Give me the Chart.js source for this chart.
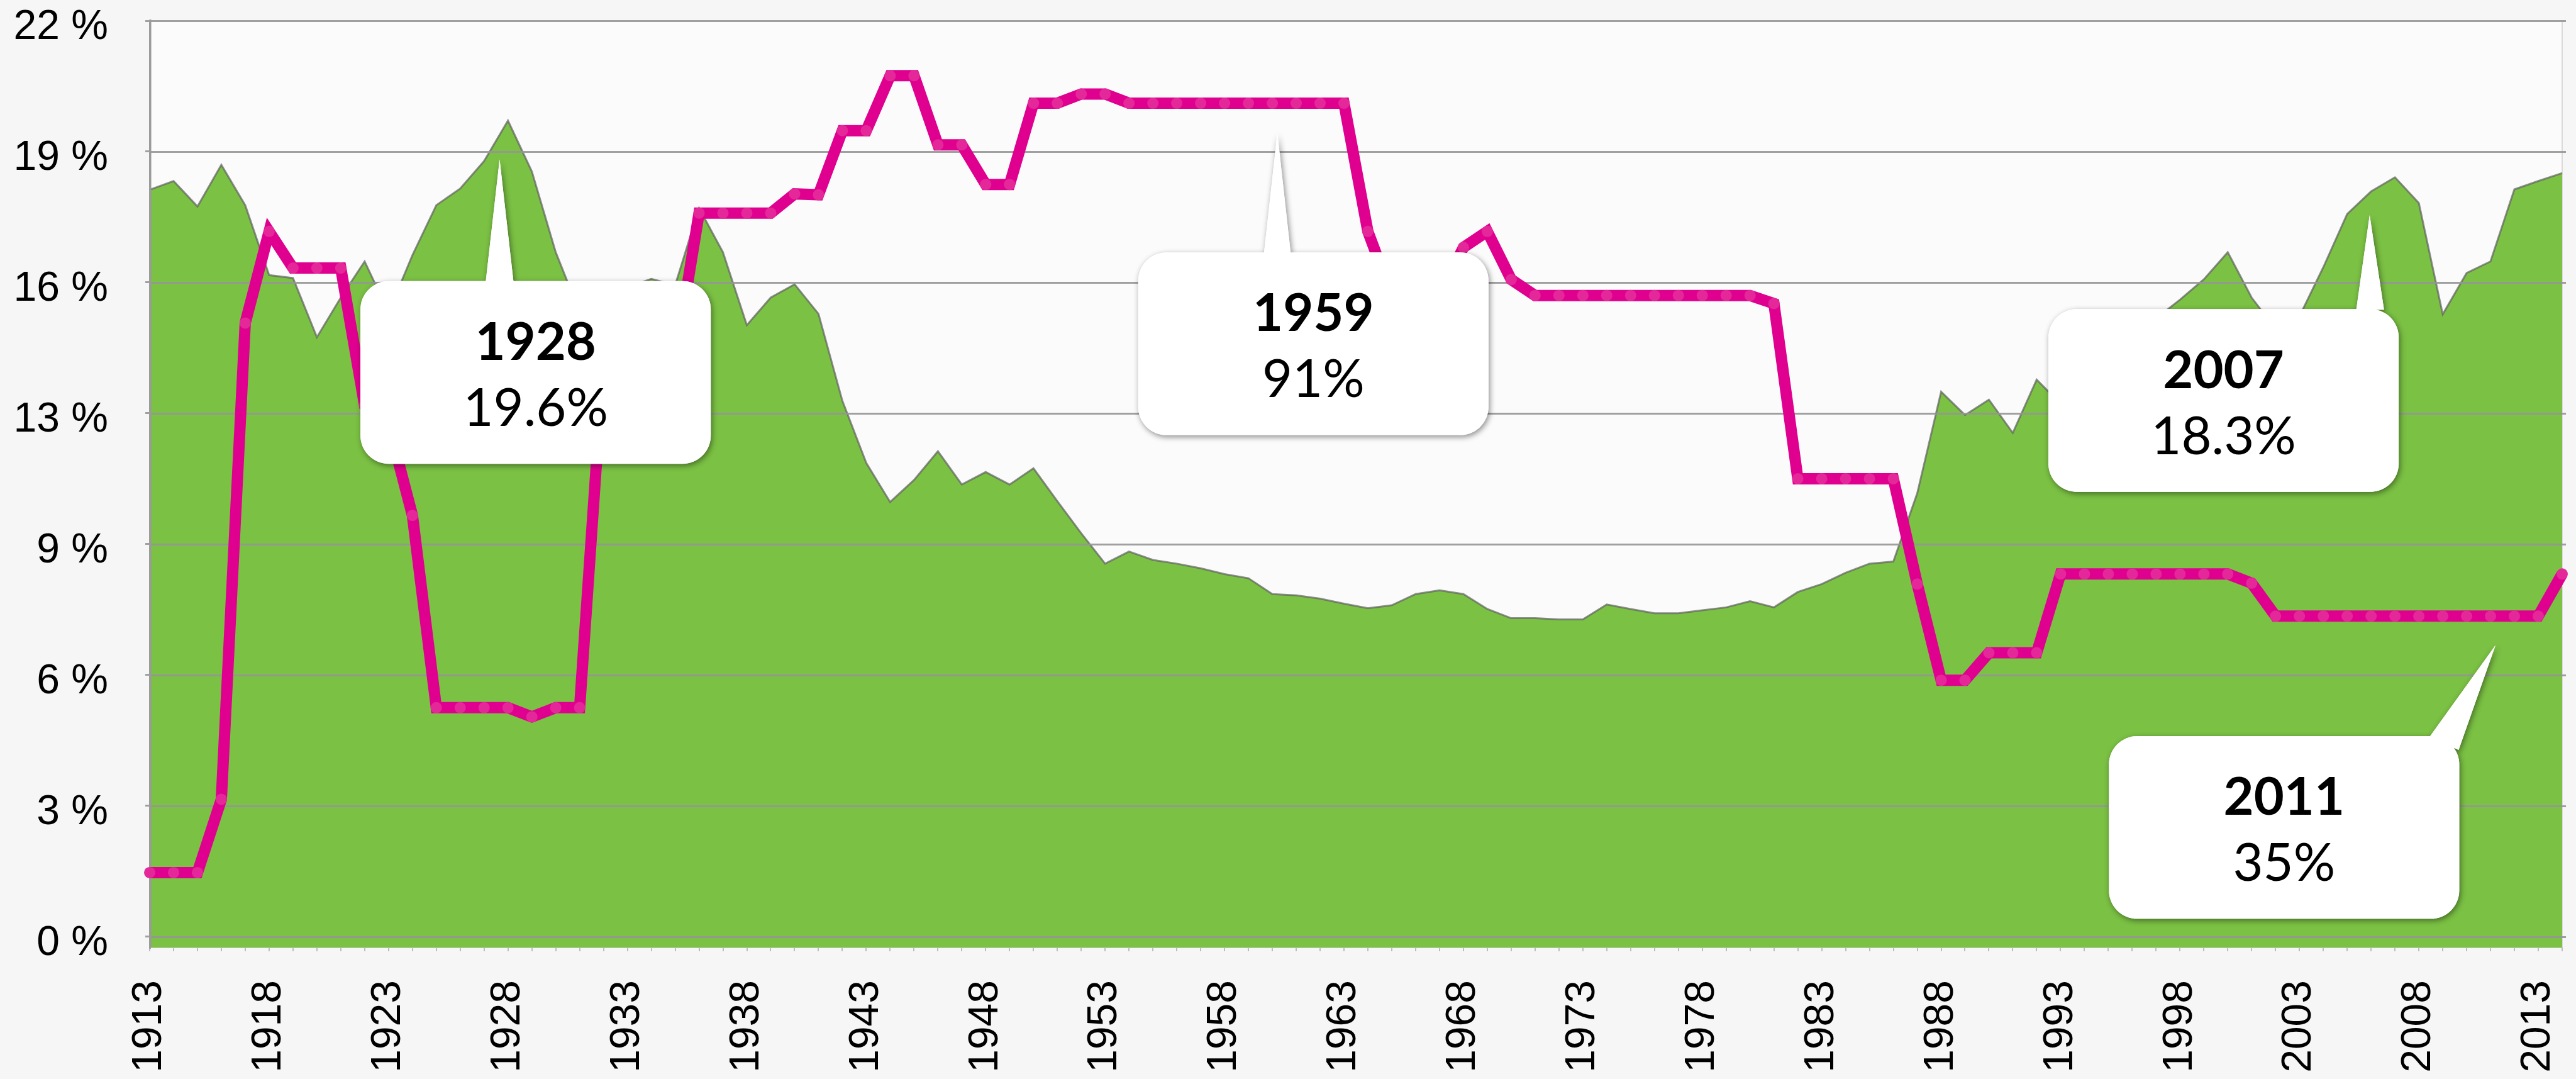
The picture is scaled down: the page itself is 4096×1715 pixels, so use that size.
<!DOCTYPE html>
<html>
<head>
<meta charset="utf-8">
<script src="https://cdn.jsdelivr.net/npm/chart.js@4.4.1/dist/chart.umd.min.js"></script>
<style>
  html, body { margin: 0; padding: 0; background: #f6f6f6; }
  canvas { display: block; }
</style>
</head>
<body>
<canvas id="chart" width="4096" height="1715"></canvas>
<script>
// years on the x axis
const years = [
    1913, 1914, 1915, 1916, 1917, 1918, 1919, 1920, 1921, 1922,
    1923, 1924, 1925, 1926, 1927, 1928, 1929, 1930, 1931, 1932,
    1933, 1934, 1935, 1936, 1937, 1938, 1939, 1940, 1941, 1942,
    1943, 1944, 1945, 1946, 1947, 1948, 1949, 1950, 1951, 1952,
    1953, 1954, 1955, 1956, 1957, 1958, 1959, 1960, 1961, 1962,
    1963, 1964, 1965, 1966, 1967, 1968, 1969, 1970, 1971, 1972,
    1973, 1974, 1975, 1976, 1977, 1978, 1979, 1980, 1981, 1982,
    1983, 1984, 1985, 1986, 1987, 1988, 1989, 1990, 1991, 1992,
    1993, 1994, 1995, 1996, 1997, 1998, 1999, 2000, 2001, 2002,
    2003, 2004, 2005, 2006, 2007, 2008, 2009, 2010, 2011, 2012,
    2013, 2014
];

// green area, left axis (%)
const topShare = [
    17.94, 18.15, 17.54, 18.54, 17.57, 15.89, 15.82, 14.40, 15.35, 16.22,
    15.00, 16.37, 17.57, 17.97, 18.63, 19.60, 18.38, 16.44, 15.00, 15.40,
    15.60, 15.80, 15.65, 17.50, 16.44, 14.69, 15.35, 15.67, 14.96, 12.87,
    11.38, 10.44, 10.97, 11.66, 10.86, 11.16, 10.86, 11.25, 10.46, 9.69,
    8.96, 9.25, 9.05, 8.96, 8.85, 8.71, 8.61, 8.23, 8.20, 8.12,
    8.00, 7.89, 7.96, 8.23, 8.32, 8.23, 7.87, 7.65, 7.65, 7.62,
    7.62, 7.98, 7.87, 7.77, 7.77, 7.84, 7.91, 8.06, 7.91, 8.28,
    8.47, 8.74, 8.96, 9.01, 10.65, 13.09, 12.53, 12.90, 12.10, 13.38,
    12.80, 12.90, 13.40, 14.10, 14.85, 15.30, 15.79, 16.44, 15.35, 14.60,
    14.90, 16.08, 17.36, 17.90, 18.24, 17.62, 14.95, 15.94, 16.22, 17.95,
    18.15, 18.34
];

// magenta line, hidden right axis (0-100 %)
const topRate = [
    7, 7, 7, 15, 67, 77, 73, 73, 73, 58,
    56, 46, 25, 25, 25, 25, 24, 25, 25, 63,
    63, 63, 63, 79, 79, 79, 79, 81.1, 81, 88,
    88, 94, 94, 86.45, 86.45, 82.13, 82.13, 91, 91, 92,
    92, 91, 91, 91, 91, 91, 91, 91, 91, 91,
    91, 77, 70, 70, 70, 75.25, 77, 71.75, 70, 70,
    70, 70, 70, 70, 70, 70, 70, 70, 69.13, 50,
    50, 50, 50, 50, 38.5, 28, 28, 31, 31, 31,
    39.6, 39.6, 39.6, 39.6, 39.6, 39.6, 39.6, 39.6, 38.6, 35,
    35, 35, 35, 35, 35, 35, 35, 35, 35, 35,
    35, 39.6
];

const shareTickLabels = ['0 %', '3 %', '6 %', '9 %', '13 %', '16 %', '19 %', '22 %'];
const rateTickLabels = ['0 %', '14 %', '29 %', '43 %', '57 %', '71 %', '86 %', '100 %'];
const shareMax = 22;
const rateMax = 100;

// callouts: tip = [year index, left-axis value]
const callouts = [
    { title: '1928', value: '19.6%', tip: [14.65, 18.67], box: [70, 414], base: [-97, -43] },
    { title: '1959', value: '91%', tip: [47.21, 19.31], box: [70, 410], base: [-96, -44] },
    { title: '2007', value: '18.3%', tip: [92.94, 17.33], box: [-284, 360], base: [258, 312] },
    { title: '2011', value: '35%', tip: [98.21, 7.0], box: [-411, 354], base: [283, 27], corner: true }
];

const S = 0.818;
const shareMin = -0.26;
const rateMin = shareMin * rateMax / shareMax;
const steps = shareTickLabels.length - 1;

const plotBackground = {
    id: 'plotBackground',
    beforeDraw(chart) {
        const a = chart.chartArea;
        const ctx = chart.ctx;
        ctx.save();
        ctx.fillStyle = '#fbfbfb';
        ctx.fillRect(a.left, a.top, a.right - a.left, a.bottom - a.top);
        ctx.strokeStyle = '#dadada';
        ctx.lineWidth = 2;
        ctx.beginPath();
        ctx.moveTo(a.right, a.top);
        ctx.lineTo(a.right, a.bottom);
        ctx.stroke();
        ctx.restore();
    }
};

// gridlines show over the green area but under the magenta line
const gridOverArea = {
    id: 'gridOverArea',
    afterDatasetDraw(chart, args) {
        if (args.index !== 0) return;
        const a = chart.chartArea;
        const ys = chart.scales.y;
        const ctx = chart.ctx;
        ctx.save();
        ctx.strokeStyle = 'rgba(150, 150, 150, 0.9)';
        ctx.lineWidth = 3;
        for (let k = 0; k <= steps; k++) {
            const y = Math.round(ys.getPixelForValue(k * shareMax / steps)) + 0.5;
            ctx.beginPath();
            ctx.moveTo(a.left, y);
            ctx.lineTo(a.right + 6, y);
            ctx.stroke();
        }
        ctx.strokeStyle = '#9a9a9a';
        ctx.beginPath();
        ctx.moveTo(a.left + 1, a.top - 2);
        ctx.lineTo(a.left + 1, a.bottom);
        ctx.stroke();
        ctx.restore();
    }
};

const calloutPlugin = {
    id: 'callouts',
    afterDraw(chart) {
        const ctx = chart.ctx;
        const xs = chart.scales.x;
        const ys = chart.scales.y;
        const w = 681 * S, h = 355 * S, r = 55 * S;

        callouts.forEach(c => {
            const tx = xs.getPixelForValue(c.tip[0]);
            const ty = ys.getPixelForValue(c.tip[1]);
            const cx = tx + c.box[0] * S;
            const cy = ty + c.box[1] * S;
            const left = cx - w / 2, top = cy - h / 2, right = cx + w / 2;
            let b1, b2;
            if (c.corner) {
                b1 = [cx + c.base[0] * S, top + 1];
                b2 = [right - 1, top + c.base[1] * S];
            } else {
                b1 = [cx + c.base[0] * S, top + 1];
                b2 = [cx + c.base[1] * S, top + 1];
            }

            const drawShape = () => {
                ctx.beginPath();
                ctx.roundRect(left, top, w, h, r);
                ctx.fill();
                ctx.beginPath();
                ctx.moveTo(b1[0], b1[1]);
                ctx.lineTo(tx, ty);
                ctx.lineTo(b2[0], b2[1]);
                ctx.closePath();
                ctx.fill();
            };

            ctx.save();
            ctx.fillStyle = '#ffffff';
            ctx.shadowColor = 'rgba(0, 0, 0, 0.45)';
            ctx.shadowBlur = 10;
            ctx.shadowOffsetX = 2;
            ctx.shadowOffsetY = 3;
            drawShape();
            ctx.restore();

            ctx.save();
            ctx.fillStyle = '#ffffff';
            drawShape();
            ctx.fillStyle = '#000000';
            ctx.textAlign = 'center';
            ctx.textBaseline = 'alphabetic';
            ctx.font = 'bold 83px Lato';
            ctx.fillText(c.title, cx, cy - 20);
            ctx.font = '83px Lato';
            ctx.fillText(c.value, cx, cy + 85);
            ctx.restore();
        });
    }
};

function drawChart() {
    const ctx = document.getElementById('chart').getContext('2d');
    new Chart(ctx, {
        type: 'line',
        data: {
            labels: years.map(String),
            datasets: [
                {
                    label: 'Top share',
                    data: topShare,
                    yAxisID: 'y',
                    order: 1,
                    fill: 'start',
                    backgroundColor: '#7bc144',
                    borderColor: 'rgba(95, 95, 95, 0.7)',
                    borderWidth: 3,
                    pointRadius: 0,
                    tension: 0
                },
                {
                    label: 'Top rate',
                    data: topRate,
                    yAxisID: 'y2',
                    order: 0,
                    fill: false,
                    borderColor: '#e0008f',
                    borderWidth: 18,
                    borderJoinStyle: 'miter',
                    borderCapStyle: 'butt',
                    pointRadius: 9,
                    pointBorderWidth: 0,
                    pointBackgroundColor: '#e42899',
                    tension: 0,
                    clip: 14
                }
            ]
        },
        options: {
            responsive: false,
            animation: false,
            devicePixelRatio: 1,
            layout: {
                padding: { left: 0, right: 22, top: 33, bottom: 0 }
            },
            plugins: {
                legend: { display: false },
                tooltip: { enabled: false }
            },
            scales: {
                x: {
                    type: 'category',
                    grid: {
                        display: true,
                        drawOnChartArea: false,
                        drawTicks: true,
                        tickLength: 6,
                        color: '#bdbdbd',
                        lineWidth: 2
                    },
                    border: { color: '#c8c8c8', width: 2 },
                    ticks: {
                        autoSkip: false,
                        minRotation: 90,
                        maxRotation: 90,
                        padding: 46,
                        color: '#000000',
                        font: { family: 'Liberation Sans', size: 66 },
                        callback: (v, i) => (i % 5 === 0 ? String(years[i]) : '')
                    },
                    afterFit: s => {
                        s.height = 209;
                        s.paddingLeft = 0;
                        s.paddingRight = 0;
                    }
                },
                y: {
                    type: 'linear',
                    position: 'left',
                    weight: 1,
                    min: shareMin,
                    max: shareMax,
                    grid: {
                        display: true,
                        drawOnChartArea: false,
                        drawTicks: true,
                        tickLength: 7,
                        color: '#a0a0a0',
                        lineWidth: 3
                    },
                    border: { color: '#a0a0a0', width: 3 },
                    afterBuildTicks: s => {
                        s.ticks = shareTickLabels.map((t, k) => ({ value: k * shareMax / steps }));
                    },
                    ticks: {
                        padding: 59,
                        labelOffset: 11,
                        color: '#000000',
                        font: { family: 'Liberation Sans', size: 66 },
                        callback: (v, i) => shareTickLabels[i]
                    },
                    afterFit: s => {
                        s.width = 238;
                        s.paddingTop = 0;
                        s.paddingBottom = 0;
                    }
                },
                y2: {
                    type: 'linear',
                    position: 'left',
                    weight: 0,
                    min: rateMin,
                    max: rateMax,
                    grid: { display: false },
                    border: { display: false },
                    afterBuildTicks: s => {
                        s.ticks = rateTickLabels.map((t, k) => ({ value: k * rateMax / steps }));
                    },
                    ticks: {
                        padding: 26,
                        color: '#ffffff',
                        font: { family: 'Liberation Sans', size: 18 },
                        callback: (v, i) => rateTickLabels[i]
                    },
                    afterFit: s => {
                        s.width = 0;
                        s.paddingTop = 0;
                        s.paddingBottom = 0;
                    }
                }
            }
        },
        plugins: [plotBackground, gridOverArea, calloutPlugin]
    });
}

Promise.all([
    document.fonts.load('bold 83px Lato'),
    document.fonts.load('83px Lato'),
    document.fonts.load('66px "Liberation Sans"')
]).then(drawChart, drawChart);
</script>
</body>
</html>
